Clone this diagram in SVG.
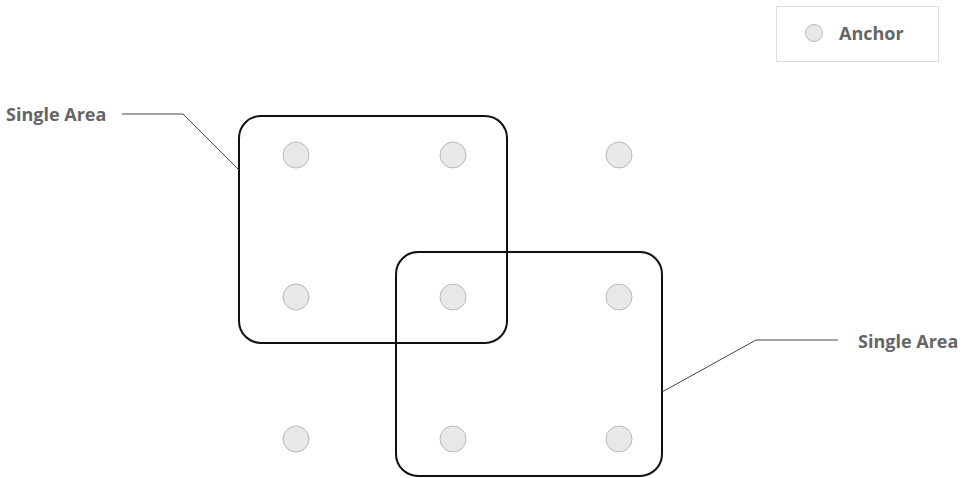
<svg xmlns="http://www.w3.org/2000/svg" width="973" height="478" viewBox="0 0 973 478">
<style>
.area{fill:none;stroke:#111;stroke-width:2}
.anchor{fill:#e8e8e8;stroke:#b8b8b8;stroke-width:1}
.lbl{font-family:"Open Sans","Liberation Sans",sans-serif;font-weight:bold;font-size:18px;fill:#666}
.lead{fill:none;stroke:#444;stroke-width:1}
</style>
<rect width="973" height="478" fill="#fff"/>
<g id="legend">
<rect x="776.5" y="6.5" width="162" height="55" fill="#fff" stroke="#ddd"/>
<circle class="anchor" cx="814" cy="33" r="8.5"/>
<text class="lbl" x="839" y="40">Anchor</text>
</g>
<g id="area1"><rect class="area" x="239" y="116" width="268" height="227" rx="22"/></g>
<g id="area2"><rect class="area" x="396" y="252" width="266" height="224" rx="22"/></g>
<g id="anchors">
<circle class="anchor" cx="296" cy="155" r="13"/>
<circle class="anchor" cx="453" cy="155" r="13"/>
<circle class="anchor" cx="619" cy="155" r="13"/>
<circle class="anchor" cx="296" cy="297" r="13"/>
<circle class="anchor" cx="453" cy="297" r="13"/>
<circle class="anchor" cx="619" cy="297" r="13"/>
<circle class="anchor" cx="296" cy="439" r="13"/>
<circle class="anchor" cx="453" cy="439" r="13"/>
<circle class="anchor" cx="619" cy="439" r="13"/>
</g>
<g id="label1"><text class="lbl" x="6" y="121">Single Area</text></g>
<g id="label2"><text class="lbl" x="858" y="348">Single Area</text></g>
<g id="connectors">
<polyline class="lead" points="122,114 183,114 239,170"/>
<polyline class="lead" points="662,392 756,340 838,340"/>
</g>
</svg>
